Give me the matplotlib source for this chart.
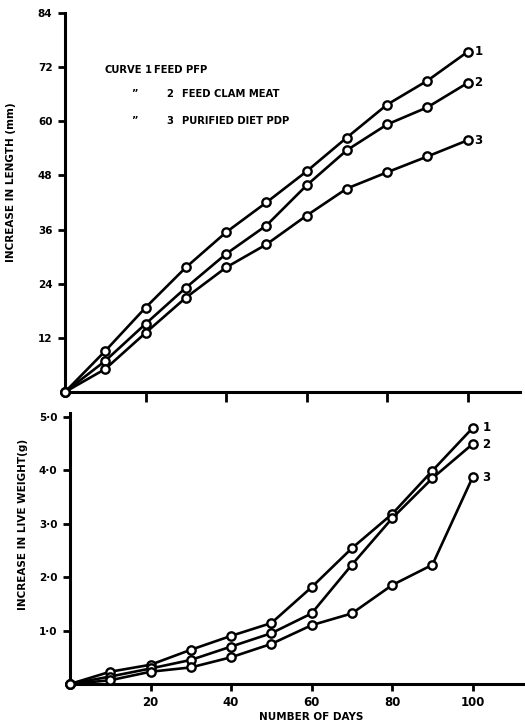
import matplotlib
matplotlib.use('Agg')
import matplotlib.pyplot as plt

# data
days = [0, 10, 20, 30, 40, 50, 60, 70, 80, 90, 100]

length_pfp = [0, 9.1, 18.7, 27.6, 35.4, 42.0, 48.9, 56.4, 63.7, 69.0, 75.4]
length_clam = [0, 6.9, 15.1, 23.1, 30.6, 36.9, 45.8, 53.6, 59.3, 63.1, 68.5]
length_pdp = [0, 5.1, 13.1, 20.9, 27.6, 32.7, 39.1, 45.1, 48.7, 52.2, 55.8]

weight_pfp = [0, 0.23, 0.36, 0.64, 0.90, 1.14, 1.81, 2.54, 3.18, 3.99, 4.79]
weight_clam = [0, 0.14, 0.29, 0.45, 0.70, 0.95, 1.32, 2.23, 3.10, 3.85, 4.49]
weight_pdp = [0, 0.07, 0.23, 0.31, 0.50, 0.75, 1.10, 1.32, 1.85, 2.23, 3.87]

curve_ids = ['1', '2', '3']
legend_rows = [('CURVE', '1', 'FEED PFP'),
               ('\u201d', '2', 'FEED CLAM MEAT'),
               ('\u201d', '3', 'PURIFIED DIET PDP')]

length_ticks = [12, 24, 36, 48, 60, 72, 84]
weight_ticks = [1, 2, 3, 4, 5]
weight_ticklabels = ['1\u00b70', '2\u00b70', '3\u00b70', '4\u00b70', '5\u00b70']
day_ticks = [20, 40, 60, 80, 100]

plt.rcParams['font.family'] = ['Liberation Sans Narrow', 'DejaVu Sans']
plt.rcParams['font.weight'] = 'bold'

W, H = 525, 725
fig = plt.figure(figsize=(W / 100, H / 100), dpi=100)

line_kw = dict(color='black', lw=1.9, marker='o', ms=6, mfc='white',
               mec='black', mew=1.7, clip_on=False, zorder=3)


def style_axes(ax):
    for s in ['top', 'right']:
        ax.spines[s].set_visible(False)
    for s in ['left', 'bottom']:
        ax.spines[s].set_linewidth(2.2)
    ax.tick_params(axis='both', direction='out', length=5, width=2,
                   labelsize=7.5, pad=4)


# top panel: length
ax1 = fig.add_axes([65 / W, 1 - 392 / H, 455 / W, 379 / H])
series = [length_pfp, length_clam, length_pdp]
for vals, cid in zip(series, curve_ids):
    ax1.plot(days, vals, **line_kw)
    ax1.annotate(cid, (days[-1], vals[-1]), xytext=(5, 0),
                 textcoords='offset points', fontsize=8.5, fontweight='bold',
                 va='center', ha='left')
ax1.set_xlim(0, 113)
ax1.set_ylim(0, 84)
ax1.set_yticks(length_ticks)
ax1.set_xticks(day_ticks)
ax1.set_xticklabels([])
style_axes(ax1)
ax1.tick_params(axis='x', length=7)
ax1.set_ylabel('INCREASE IN LENGTH (mm)', fontsize=7.5, fontweight='bold')
ax1.yaxis.set_label_coords(-0.108, 0.553)

# legend block written as text
row_y = [70, 94, 121]
for (a, b, c), y in zip(legend_rows, row_y):
    ya = 1 - y / H
    if a == 'CURVE':
        fig.text(142 / W, ya, a, fontsize=7.2, fontweight='bold', va='center', ha='right')
        fig.text(145 / W, ya, b, fontsize=7.2, fontweight='bold', va='center')
        fig.text(154 / W, ya, c, fontsize=7.2, fontweight='bold', va='center')
    else:
        fig.text(131 / W, ya, a, fontsize=7.2, fontweight='bold', va='center')
        fig.text(166 / W, ya, b, fontsize=7.2, fontweight='bold', va='center')
        fig.text(182 / W, ya, c, fontsize=7.2, fontweight='bold', va='center')

# bottom panel: live weight
ax2 = fig.add_axes([70 / W, 1 - 684 / H, 455 / W, 271 / H])
series = [weight_pfp, weight_clam, weight_pdp]
for vals, cid in zip(series, curve_ids):
    ax2.plot(days, vals, **line_kw)
    ax2.annotate(cid, (days[-1], vals[-1]), xytext=(7, 0),
                 textcoords='offset points', fontsize=8.5, fontweight='bold',
                 va='center', ha='left')
ax2.set_xlim(0, 113)
ax2.set_ylim(0, 5.07)
ax2.set_yticks(weight_ticks)
ax2.set_yticklabels(weight_ticklabels)
ax2.set_xticks(day_ticks)
ax2.set_xticklabels([str(d) for d in day_ticks])
style_axes(ax2)
ax2.tick_params(axis='x', labelsize=8.5)
ax2.set_ylabel('INCREASE IN LIVE WEIGHT(g)', fontsize=7.5, fontweight='bold')
ax2.yaxis.set_label_coords(-0.0925, 0.587)
ax2.set_xlabel('NUMBER OF DAYS', fontsize=7.5, fontweight='bold')
ax2.xaxis.set_label_coords((311 - 70) / 455, -0.105)

fig.savefig('out.png', dpi=100)
